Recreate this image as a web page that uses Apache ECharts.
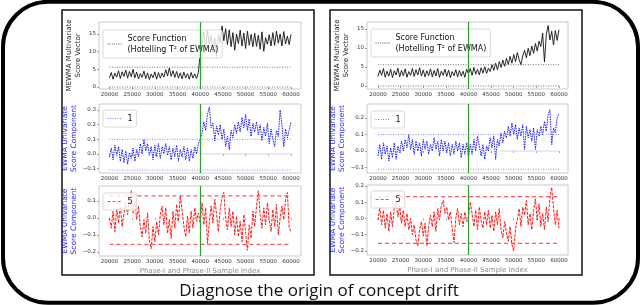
<!DOCTYPE html>
<html><head><meta charset="utf-8">
<script src="https://cdn.jsdelivr.net/npm/echarts@6/dist/echarts.min.js"></script>
<style>html,body{margin:0;padding:0;background:#fff}#c{width:640px;height:305px}</style>
</head><body><div id="c"></div>
<script>
// ---- data ----
const xStart = 20000, xStep = 400;   // sample index of each value
const xTicks = [20000,25000,30000,35000,40000,45000,50000,55000,60000];
const driftAt = 40000;

const tlScore = [
2.6,4.1,2.2,3.9,2.8,4.6,2.4,4.3,3.0,4.8,
2.5,4.4,2.9,5.0,2.6,4.2,2.3,3.8,2.7,4.5,
2.4,4.0,2.1,3.7,2.6,4.3,2.2,4.1,2.5,3.9,
2.8,4.9,3.1,5.4,3.0,4.6,2.7,4.4,2.5,4.0,
2.3,4.2,2.6,3.8,2.2,4.1,2.5,3.7,2.4,4.2,
9.5,
12.0,15.6,10.8,15.9,12.2,14.6,9.8,13.9,8.7,14.8,
12.6,17.3,13.1,16.5,12.0,16.2,11.4,15.4,10.4,15.0,
12.3,16.1,11.6,15.3,10.9,15.8,11.8,14.9,11.4,15.2,
11.5,14.7,10.7,15.6,10.1,14.0,12.1,14.8,11.6,15.4,
11.8,15.8,12.4,15.0,11.6,15.7,12.2,14.4,12.0,14.9];
const trScore = [
2.5,4.2,2.8,4.6,2.3,3.9,2.6,4.4,2.2,4.0,
2.9,4.7,2.4,4.1,2.7,4.5,2.3,3.8,2.8,4.6,
2.5,4.3,2.9,4.8,2.6,4.2,2.4,4.0,2.7,4.5,
2.4,4.1,2.6,4.6,2.3,3.9,2.8,4.4,2.5,4.2,
2.2,3.8,2.7,4.3,2.4,4.1,2.6,3.9,2.3,4.4,
3.2,
4.6,2.8,4.9,3.1,4.4,2.9,4.8,3.4,5.1,3.3,
4.7,3.8,5.6,4.1,6.0,4.3,6.4,4.9,6.8,5.2,
7.3,5.6,7.8,6.0,8.3,6.4,8.8,6.9,5.6,7.9,
9.4,7.4,9.9,8.0,10.5,8.6,11.2,9.2,11.8,10.4,
13.9,6.3,13.5,15.9,12.1,14.4,10.8,14.6,12.0,14.8];
const mlComp1 = [
-0.02,0.04,-0.04,0.06,-0.01,0.05,-0.05,0.03,-0.06,0.02,
-0.07,0.01,-0.03,0.04,-0.05,0.03,-0.02,0.07,0.00,0.10,
0.02,0.07,-0.01,0.05,-0.04,0.06,-0.02,0.07,-0.03,0.05,
0.00,0.07,-0.01,0.05,-0.04,0.04,-0.02,0.06,-0.05,0.03,
-0.02,0.05,-0.04,0.04,-0.05,0.03,-0.03,0.05,0.00,0.07,
0.10,
0.14,0.22,0.16,0.27,0.32,0.18,0.21,0.09,0.19,0.13,
0.20,0.10,0.17,0.05,0.12,0.03,0.16,0.11,0.20,0.14,
0.22,0.15,0.25,0.18,0.27,0.16,0.24,0.12,0.21,0.15,
0.22,0.13,0.20,0.09,0.18,0.12,0.21,0.07,0.17,0.10,
0.05,0.16,0.12,0.30,0.20,0.05,0.17,0.11,0.16,0.22];
const mrComp1 = [
-0.03,0.04,-0.05,0.05,-0.02,0.03,-0.06,0.02,-0.04,0.05,
-0.05,0.03,-0.01,0.06,0.00,0.07,0.02,0.10,0.01,0.07,
-0.02,0.06,0.00,0.05,-0.03,0.07,0.01,0.06,-0.02,0.04,
0.00,0.08,0.01,0.06,-0.03,0.07,0.00,0.06,-0.01,0.05,
-0.03,0.04,-0.02,0.06,0.00,0.05,-0.04,0.04,-0.02,0.05,
-0.04,
0.04,-0.02,0.07,0.00,0.09,0.03,-0.03,0.04,-0.05,0.03,
0.00,0.08,0.02,0.09,-0.05,0.07,0.03,0.11,0.05,0.12,
0.08,0.15,0.09,0.17,0.10,0.16,0.07,0.14,0.09,0.16,
0.01,0.15,0.08,0.13,0.06,0.14,0.01,0.13,0.09,0.15,
0.10,0.18,0.12,0.22,0.25,0.04,0.14,0.11,0.20,0.23];
const blComp5 = [
0.00,-0.06,0.04,-0.08,0.06,-0.03,0.07,-0.05,0.03,0.09,
0.02,0.11,0.16,0.03,0.10,-0.01,0.07,-0.05,-0.11,-0.01,
-0.09,0.03,-0.13,-0.18,-0.05,-0.14,-0.02,-0.10,0.02,0.07,
-0.04,0.06,-0.09,-0.01,-0.12,0.04,-0.06,0.08,-0.02,0.13,
0.05,-0.05,-0.11,0.01,-0.09,0.04,-0.06,0.06,-0.02,0.03,
-0.03,
0.09,-0.04,0.06,-0.15,-0.03,0.07,-0.03,0.11,0.02,-0.08,
0.05,0.12,0.15,0.00,-0.07,0.06,-0.05,0.04,-0.10,0.01,
-0.11,-0.02,-0.14,0.02,-0.09,-0.19,-0.04,-0.12,0.04,-0.05,
0.07,0.16,0.02,-0.06,0.06,-0.04,0.09,-0.01,-0.08,0.05,
-0.05,0.08,-0.10,0.00,0.07,-0.01,0.11,0.15,-0.06,-0.08];
const brComp5 = [
-0.01,0.07,-0.04,0.05,-0.06,0.03,-0.08,0.04,-0.05,0.06,
0.10,0.01,0.08,-0.03,0.05,-0.05,0.03,-0.07,0.00,-0.10,
-0.04,-0.13,-0.17,-0.07,-0.02,-0.11,-0.03,-0.17,-0.05,0.02,
-0.05,0.04,-0.08,0.06,-0.01,0.08,0.11,0.03,0.07,-0.01,
0.04,-0.06,-0.15,0.00,0.06,-0.04,0.03,-0.05,0.04,-0.02,
0.01,
0.10,0.03,-0.05,0.05,-0.07,0.07,-0.01,-0.06,0.04,-0.04,
0.05,-0.06,0.02,-0.08,0.04,-0.04,0.06,-0.07,-0.12,-0.02,
-0.09,-0.14,-0.05,-0.16,-0.20,-0.06,-0.01,0.06,-0.05,0.07,
0.02,0.11,-0.04,0.03,-0.07,0.05,0.12,-0.01,0.09,-0.05,
0.03,-0.07,0.07,-0.02,0.12,0.19,0.06,-0.04,0.05,-0.06];

// control limits [upper, lower] and centre lines [value, from, to]
const tlLimits = [5.6, 0];
const trLimits = [5.6, 0];
const mlLimits = [0.10, -0.11];
const mrLimits = [0.10, -0.11];
const blLimits = [0.13, -0.155];
const brLimits = [0.133, -0.154];
const mlCenter = [0, 40000, 60000];
const mrCenter = [0, 47000, 60000];
const limitRange = [20000, 60000];

const yTicksTop = [0,5,10,15];
const yTicksML = [-0.1,0,0.1,0.2,0.3];
const yTicksMR = [-0.1,0,0.1,0.2];
const yTicksBL = [-0.2,-0.1,0,0.1];
const yTicksBR = [-0.2,-0.1,0,0.1,0.2];

// ---- chart ----
const pts = a => a.map((v,i)=>[xStart + i*xStep, v]);
const hline = (v, r) => [[r[0], v],[r[1], v]];
const FF = 'DejaVu Sans';
const minus = s => s.replace('-', '\u2212');

const grids = [
  {left:99, top:22, width:202, height:67},
  {left:367, top:22, width:201, height:67},
  {left:99, top:104, width:202, height:69},
  {left:367, top:104, width:201, height:69},
  {left:99, top:186, width:202, height:70},
  {left:367, top:185, width:201, height:70}
].map(g => Object.assign(g, {show:true, borderColor:'#bdbdbd', borderWidth:0.8, backgroundColor:'transparent'}));

const xr = [[17700,62200],[17570,62000],[17700,62200],[17570,62000],[17700,62200],[17570,62000]];
const xAxes = xr.map((r,k)=>({
  type:'value', gridIndex:k, min:r[0], max:r[1],
  axisLine:{show:false}, splitLine:{show:false},
  axisTick:{show:true, customValues:xTicks, length:2, lineStyle:{color:'#666', width:0.6}},
  axisLabel:{customValues:xTicks, formatter:v=>String(v), fontSize:5.5, color:'#333', margin:3, fontFamily:FF},
  name: k>=4 ? 'Phase-I and Phase-II Sample Index' : '',
  nameLocation:'middle', nameGap:12,
  nameTextStyle:{fontSize:7, color:'#8c8c8c', fontFamily:FF}
}));

const ySpec = [
  {min:-0.57, max:18.4, t:yTicksTop, f:v=>String(v), name:'MEWMA Multivariate\nScore Vector', c:'#222', fs:7},
  {min:-0.79, max:16.84, t:yTicksTop, f:v=>String(v), name:'MEWMA Multivariate\nScore Vector', c:'#222', fs:7},
  {min:-0.13, max:0.341, t:yTicksML, f:v=>minus(v.toFixed(1)), name:'EWMA Univariate\nScore Component', c:'#1f1fff', fs:7.5},
  {min:-0.133, max:0.285, t:yTicksMR, f:v=>minus(v.toFixed(1)), name:'EWMA Univariate\nScore Component', c:'#1f1fff', fs:7.5},
  {min:-0.2235, max:0.188, t:yTicksBL, f:v=>minus(v.toFixed(1)), name:'EWMA Univariate\nScore Component', c:'#1f1fff', fs:7.5},
  {min:-0.225, max:0.205, t:yTicksBR, f:v=>minus(v.toFixed(1)), name:'EWMA Univariate\nScore Component', c:'#1f1fff', fs:7.5}
];
const yAxes = ySpec.map((s,k)=>({
  type:'value', gridIndex:k, min:s.min, max:s.max,
  axisLine:{show:false}, splitLine:{show:false},
  axisTick:{show:true, customValues:s.t, length:2, lineStyle:{color:'#666', width:0.6}},
  axisLabel:{customValues:s.t, formatter:s.f, fontSize:5.5, color:'#333', margin:3, fontFamily:FF},
  name:s.name, nameLocation:'middle', nameGap:16, nameRotate:90,
  nameTextStyle:{fontSize:s.fs, color:s.c, fontFamily:FF, lineHeight:9}
}));

const green = {silent:true, symbol:['none','none'], label:{show:false},
  lineStyle:{color:'#2ca02c', width:1.2, type:'solid'}, data:[{xAxis:driftAt}]};

const series = [];
function mainSeries(name, k, data, ls){
  series.push({name, type:'line', xAxisIndex:k, yAxisIndex:k, data:pts(data), symbol:'none',
    itemStyle:{color:ls.color, opacity:0}, lineStyle:ls, animation:false, z:2, markLine:green});
}
function limSeries(k, v, ls, r){
  series.push({type:'line', xAxisIndex:k, yAxisIndex:k, data:hline(v, r||limitRange), symbol:'none',
    lineStyle:ls, animation:false, silent:true, z:3});
}
const blackLS = {color:'#111', width:0.9};
const blueLS = {color:'#1515ff', width:1, type:[1.5,1]};
const redLS = {color:'#ff1a1a', width:1, type:[3,1.2]};
const topLim = {color:'#666', width:0.9, type:[1,1.5]};
const blueLim = {color:'#7a7aff', width:0.9, type:[1,1.5]};
const redLim = {color:'#ff5a5a', width:1.2, type:[4,3]};
const centerLS = {color:'#c6c6f2', width:0.8};

mainSeries('sfL',0,tlScore,blackLS); limSeries(0,tlLimits[0],topLim); limSeries(0,tlLimits[1],topLim);
mainSeries('sfR',1,trScore,blackLS); limSeries(1,trLimits[0],topLim); limSeries(1,trLimits[1],topLim);
limSeries(2,mlCenter[0],centerLS,[mlCenter[1],mlCenter[2]]);
mainSeries('c1L',2,mlComp1,blueLS); limSeries(2,mlLimits[0],blueLim); limSeries(2,mlLimits[1],blueLim);
limSeries(3,mrCenter[0],centerLS,[mrCenter[1],mrCenter[2]]);
mainSeries('c1R',3,mrComp1,blueLS); limSeries(3,mrLimits[0],blueLim); limSeries(3,mrLimits[1],blueLim);
mainSeries('c5L',4,blComp5,redLS); limSeries(4,blLimits[0],redLim); limSeries(4,blLimits[1],redLim);
mainSeries('c5R',5,brComp5,redLS); limSeries(5,brLimits[0],redLim); limSeries(5,brLimits[1],redLim);

const legBase = {orient:'vertical', itemWidth:15, itemHeight:8, padding:[3,4,3,4],
  backgroundColor:'rgba(255,255,255,0.8)', borderColor:'#cfcfcf', borderWidth:0.8, borderRadius:2,
  selectedMode:false, itemStyle:{opacity:0, borderWidth:0},
  textStyle:{fontSize:8, color:'#111', fontFamily:FF, lineHeight:11}};
const legends = [
  {data:['sfL'], left:103, top:30, formatter:'Score Function\n(Hotelling T\u00b2 of EWMA)', lineStyle:{type:[1,1.2], color:'#555', width:1}},
  {data:['sfR'], left:371, top:29, formatter:'Score Function\n(Hotelling T\u00b2 of EWMA)', lineStyle:{type:[1,1.2], color:'#555', width:1}},
  {data:['c1L'], left:103, top:110, formatter:'1', lineStyle:{type:[1,1.5], color:'#7a7aff', width:1}},
  {data:['c1R'], left:371, top:111, formatter:'1', lineStyle:{type:[1,1.5], color:'#7a7aff', width:1}},
  {data:['c5L'], left:103, top:193, formatter:'5', lineStyle:{type:[3,2], color:'#ff4a4a', width:1.2}},
  {data:['c5R'], left:371, top:191, formatter:'5', lineStyle:{type:[3,2], color:'#ff4a4a', width:1.2}}
].map(l => Object.assign({}, legBase, l));

const chart = echarts.init(document.getElementById('c'), null, {renderer:'canvas'});
chart.setOption({
  animation:false,
  backgroundColor:'#fff',
  grid:grids, xAxis:xAxes, yAxis:yAxes, legend:legends, series,
  graphic:[
    {type:'rect', shape:{x:3, y:1.8, width:635, height:301, r:45}, style:{fill:null, stroke:'#000', lineWidth:4}, silent:true},
    {type:'rect', shape:{x:62, y:10, width:252, height:265}, style:{fill:null, stroke:'#111', lineWidth:1.5}, silent:true},
    {type:'rect', shape:{x:330, y:10, width:252, height:265}, style:{fill:null, stroke:'#111', lineWidth:1.5}, silent:true},
    {type:'text', x:319, y:291, style:{text:'Diagnose the origin of concept drift', fill:'#111',
      font:'17px "Open Sans"', textAlign:'center', textVerticalAlign:'middle'}, silent:true}
  ]
});
</script></body></html>
